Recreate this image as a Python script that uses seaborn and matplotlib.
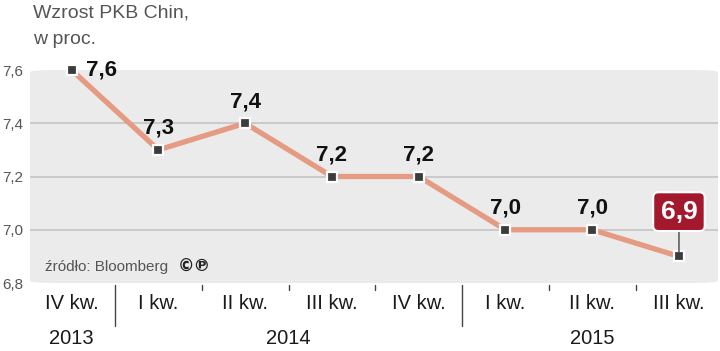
import pandas as pd
import seaborn as sns
import matplotlib.pyplot as plt
from matplotlib.patches import FancyBboxPatch
import matplotlib.transforms as mtransforms

quarters = ["IV kw.", "I kw.", "II kw.", "III kw.", "IV kw.", "I kw.", "II kw.", "III kw."]
gdp = [7.6, 7.3, 7.4, 7.2, 7.2, 7.0, 7.0, 6.9]
value_labels = ["7,6", "7,3", "7,4", "7,2", "7,2", "7,0", "7,0", "6,9"]
years = ["2013", "2014", "2015"]
year_pos = [0, 2.5, 6]
yticks = [6.8, 7.0, 7.2, 7.4, 7.6]
ytick_labels = ["6,8", "7,0", "7,2", "7,4", "7,6"]

data = pd.DataFrame({"pos": range(len(gdp)), "gdp": gdp})

sns.set_style("white")
plt.rcParams['font.family'] = ['Liberation Sans', 'DejaVu Sans']

f = plt.figure(figsize=(7.2, 3.51), dpi=100)
ax = f.add_axes([30 / 720, 68 / 351, 688 / 720, 213 / 351])

# grey rounded panel
panel = FancyBboxPatch((0, 0), 1, 1, boxstyle="round,pad=0,rounding_size=0.035",
                       transform=ax.transAxes, facecolor="#ebebeb", edgecolor="none",
                       zorder=0, mutation_aspect=0.3)
ax.add_patch(panel)
for g in [7.0, 7.2, 7.4]:
    ax.axhline(g, color="#c4c4c4", lw=1.2, zorder=1)

sns.lineplot(data, x="pos", y="gdp", color="#e59a82", lw=3.8, marker="s", markersize=6.5,
             markerfacecolor="#3c3c3c", markeredgecolor="white", markeredgewidth=1.6, ax=ax,
             zorder=3, clip_on=False)

ax.set_xlim(-0.48, 7.45)
ax.set_ylim(6.8, 7.6)
for s in ax.spines.values():
    s.set_visible(False)
ax.patch.set_visible(False)

ax.set_yticks(yticks)
ax.set_yticklabels(ytick_labels, fontsize=11, color="#555555")
ax.tick_params(axis="y", length=0, pad=5)
ax.set_xticks(range(len(quarters)))
ax.set_xticklabels(quarters, fontsize=14.5, color="#1a1a1a")
ax.tick_params(axis="x", length=0, pad=8)
ax.set_xlabel("")
ax.set_ylabel("")

# value labels
for i, (v, t) in enumerate(zip(gdp, value_labels)):
    if i == 0:
        ax.text(i + 0.17, v, t, fontsize=16, fontweight="bold", ha="left", va="center", color="#111111")
    elif i == len(gdp) - 1:
        ax.annotate(t, xy=(i, v), xytext=(i, v + 0.168), fontsize=19, fontweight="bold", color="white",
                    ha="center", va="center",
                    bbox=dict(boxstyle="round,pad=0.28,rounding_size=0.2", fc="#a3182c", ec="white", lw=1.5),
                    arrowprops=dict(arrowstyle="-", color="#444444", lw=1, shrinkA=0, shrinkB=3), zorder=5)
    else:
        ax.annotate(t, xy=(i, v), xytext=(0, 8), textcoords="offset points", fontsize=16,
                    fontweight="bold", ha="center", va="bottom", color="#111111")

# separators under x axis
trans = mtransforms.blended_transform_factory(ax.transData, ax.transAxes)
for k in range(7):
    x = k + 0.5
    if k in (0, 4):
        ax.plot([x, x], [-0.01, -0.2], color="#444444", lw=1, transform=trans, clip_on=False)
    else:
        ax.plot([x, x], [-0.01, -0.035], color="#444444", lw=1, transform=trans, clip_on=False)

for yr, p in zip(years, year_pos):
    ax.text(p, -0.26, yr, transform=trans, fontsize=14.5, color="#1a1a1a", ha="center", va="center")

ax.text(0.022, 0.075, "źródło: Bloomberg", transform=ax.transAxes, fontsize=11, color="#555555",
        va="center")
ax.text(0.215, 0.075, "©℗", transform=ax.transAxes, fontsize=12, fontweight="bold", color="#222222",
        family=["DejaVu Sans"], va="center")

f.text(33 / 720, 1 - 13 / 351, "Wzrost PKB Chin,", fontsize=14, color="#555555", va="center")
f.text(33 / 720, 1 - 40 / 351, "w proc.", fontsize=14, color="#555555", va="center")

f.savefig("out.png", dpi=100)
